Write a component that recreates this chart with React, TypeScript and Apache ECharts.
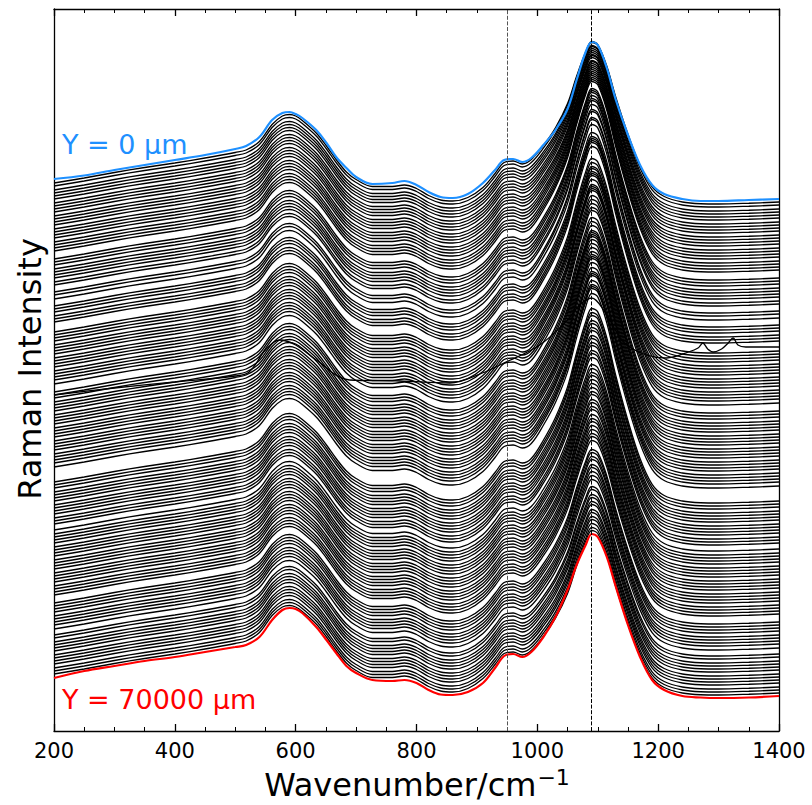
import React, { useEffect, useRef } from "react";
import * as echarts from "echarts";

const wavenumbers = [200, 250, 300, 350, 400, 450, 500, 518, 540, 561, 578, 590, 600, 611, 634, 651, 667, 684, 700, 727, 760, 780, 800, 820, 840, 860, 885, 910, 930, 945, 960, 975, 990, 1010, 1030, 1050, 1065, 1080, 1090, 1100, 1115, 1130, 1150, 1170, 1190, 1210, 1240, 1270, 1300, 1350, 1400];

// Y = 0 µm spectrum (offset intensity, a.u.)
const topSpectrum = [552, 555.5, 561, 566, 571, 576, 582, 585, 594, 611, 618, 619, 617, 613, 601, 588, 574, 563, 554, 547, 548, 550, 546, 539, 534, 533, 537, 548, 561, 571, 572, 569, 573, 586, 601, 622, 651, 679, 689, 686, 663, 631, 596, 566, 546, 537, 532, 530, 530, 531, 532];

// Y = 70000 µm spectrum (offset intensity, a.u.)
const bottomSpectrum = [53, 60, 65, 70, 74, 79, 84, 86, 94, 111, 121, 123, 122, 118, 104, 91, 78, 65, 58, 51, 50, 51, 48, 41, 36.5, 36, 39, 48, 63, 75, 77, 74, 79, 94, 114, 141, 166, 186, 197, 194, 174, 144, 106, 74, 51, 41, 35, 33.5, 33, 33.5, 35];

// typical spectrum shape relative to its 1400 cm^-1 level
const meanProfile = [19, 24, 29.5, 34.5, 39, 44, 49.5, 52, 60.5, 77.5, 86, 87.5, 86, 81.5, 69, 56, 42.5, 30, 22.5, 15.5, 15.5, 17, 13.5, 6.5, 2, 1, 4.5, 14.5, 28.5, 39.5, 41, 38, 42.5, 56.5, 74, 98, 125, 149, 159.5, 156.5, 135, 104, 67.5, 36.5, 15, 5.5, 0, -1.75, -2, -1.25, 0];

// shape of the ~1090 cm^-1 band (peak = 1)
const bandShape = [0, 0, 0, 0, 0, 0, 0, 0, 0, 0, 0, 0, 0, 0, 0, 0, 0, 0, 0, 0, 0, 0, 0, 0, 0, 0, 0, 0, 0, 0, 0, 0, 0, 0.13, 0.29, 0.49, 0.71, 0.91, 1, 0.99, 0.85, 0.64, 0.39, 0.18, 0.05, 0, 0, 0, 0, 0, 0];

// downward shift of each spectrum (Y = 0 ... 70000 µm, step 500 µm)
const baselineShift = [0, 3, 6, 10, 13, 16, 19, 23, 26, 29, 32, 36, 39, 42, 45, 49, 52, 55, 58, 62, 65, 68, 71, 79, 82, 85, 89, 92, 95, 98, 102, 105, 112, 115, 119, 126, 129, 132, 136, 139, 142, 148, 152, 155, 158, 161, 165, 168, 171, 174, 178, 181, 184, 187, 191, 194, 197, 200, 204, 212, 215, 218, 222, 225, 228, 231, 235, 238, 241, 244, 248, 251, 254, 257, 261, 264, 267, 270, 274, 277, 280, 283, 287, 302, 305, 308, 312, 315, 318, 321, 325, 328, 331, 334, 338, 341, 344, 350, 354, 357, 360, 363, 367, 370, 373, 376, 380, 383, 386, 389, 393, 396, 399, 402, 406, 409, 412, 415, 423, 426, 429, 432, 436, 439, 442, 445, 449, 455, 458, 462, 465, 468, 471, 475, 478, 481, 484, 488, 491, 494, 497];

// extra height of the 1090 cm^-1 band for each spectrum
const peakExtra = [0, 1, 3, 4, 6, 7, 8, 10, 11, 13, 14, 15, 17, 18, 19, 21, 22, 23, 24, 26, 27, 28, 29, 30, 31, 32,
  33, 33, 34, 33, 32, 33, 34, 35, 34, 33, 32, 33, 35, 36, 35, 34, 33, 32, 31, 32, 33, 34, 35, 34, 33, 34, 35, 36, 35, 34, 33, 32, 33, 34, 33, 32, 31, 32, 33, 34, 35, 34, 33, 32, 33, 34, 35, 34, 33, 32, 33, 34, 33, 32, 33, 34, 33, 33,
  32, 32, 31, 31, 30, 30, 29, 29, 28, 28, 27, 27, 26, 25, 25, 24, 24, 23, 23, 22, 21, 21, 20, 20, 19, 19, 18, 17, 17, 16, 16, 15, 15, 14, 13, 13, 12, 12, 11, 11, 10, 9, 9, 8, 8, 7, 7, 6, 6, 5, 5, 4, 4, 4, 3, 3, 3];

// one deviating spectrum (with two sharp lines near 1274 / 1324 cm^-1)
const OUTLIER_INDEX = 41;
const outlierWn = [200, 300, 400, 500, 523, 550, 573, 600, 634, 689, 772, 855, 909, 938, 1004, 1050, 1070, 1090, 1112, 1148, 1214, 1250, 1266, 1274, 1282, 1291, 1305, 1316, 1324, 1332, 1345, 1370, 1400];
const outlierIntensity = [336, 343, 349, 355, 359, 381, 391, 386, 371, 351, 350, 348, 358, 366, 386, 411, 426, 433, 419, 386, 373, 379, 383, 388, 382, 379, 382, 388, 393, 386, 384, 384, 384];

const TOP_BASELINE = 532;
const markerLines = [950, 1090];
const topLabel = "Y = 0 µm";
const bottomLabel = "Y = 70000 µm";

export default function App() {
  const ref = useRef<HTMLDivElement>(null);

  useEffect(() => {
    if (!ref.current) return;
    const chart = echarts.init(ref.current, undefined, { renderer: "svg" });

    const ctx = document.createElement("canvas").getContext("2d");
    let mainW = 274;
    let supW = 31;
    if (ctx) {
      ctx.font = '32px "DejaVu Sans"';
      mainW = ctx.measureText("Wavenumber/cm").width;
      ctx.font = '22px "DejaVu Sans"';
      supW = ctx.measureText("−1").width;
    }
    const cx = 416.5;
    const startX = cx - (mainW + supW) / 2;

    const lineBase = {
      type: "line",
      smooth: 0.35,
      symbol: "none",
      silent: true,
    };

    const series: any[] = [];
    for (let k = 1; k < baselineShift.length - 1; k++) {
      let data: number[][];
      if (k === OUTLIER_INDEX) {
        data = outlierWn.map((w, i) => [w, outlierIntensity[i]]);
      } else {
        data = wavenumbers.map((w, i) => [
          w,
          TOP_BASELINE - baselineShift[k] + meanProfile[i] + peakExtra[k] * bandShape[i],
        ]);
      }
      series.push({ ...lineBase, data, lineStyle: { color: "#000", width: 1.3 }, z: 2 });
    }
    series.push({
      ...lineBase,
      data: wavenumbers.map((w, i) => [w, topSpectrum[i]]),
      lineStyle: { color: "#1E90FF", width: 2.2 },
      z: 3,
    });
    series.push({
      ...lineBase,
      data: wavenumbers.map((w, i) => [w, bottomSpectrum[i]]),
      lineStyle: { color: "#FF0000", width: 2.2 },
      z: 3,
      markLine: {
        silent: true,
        symbol: ["none", "none"],
        label: { show: false },
        lineStyle: { type: [4, 1.6], color: "#000", width: 1 },
        data: markerLines.map((v, i) => ({
          xAxis: v,
          lineStyle: { color: i === 0 ? "#555" : "#000", type: [4, 1.6], width: 1 },
        })),
        z: 5,
      },
    });

    const xCommon = {
      type: "value",
      min: 200,
      max: 1400,
      interval: 200,
      axisLine: { show: true, onZero: false, lineStyle: { color: "#000", width: 1.3 } },
      axisTick: { show: true, inside: true, length: 7, lineStyle: { color: "#000", width: 1.3 } },
      minorTick: { show: true, splitNumber: 4, length: 4, lineStyle: { color: "#000", width: 1 } },
      splitLine: { show: false },
      minorSplitLine: { show: false },
    };
    const yCommon = {
      type: "value",
      min: 0,
      max: 722,
      axisLine: { show: true, onZero: false, lineStyle: { color: "#000", width: 1.3 } },
      axisTick: { show: false },
      axisLabel: { show: false },
      splitLine: { show: false },
    };

    chart.setOption({
      animation: false,
      grid: { left: 54, top: 9, width: 725, height: 722, containLabel: false },
      xAxis: [
        {
          ...xCommon,
          position: "bottom",
          axisLabel: {
            color: "#000",
            fontSize: 21,
            fontFamily: "DejaVu Sans",
            margin: 9,
            formatter: (v: number) => String(v),
          },
        },
        { ...xCommon, position: "top", axisLabel: { show: false } },
      ],
      yAxis: [
        { ...yCommon, position: "left" },
        { ...yCommon, position: "right" },
      ],
      series,
      graphic: [
        {
          type: "text",
          x: 30,
          y: 369,
          rotation: Math.PI / 2,
          style: {
            text: "Raman Intensity",
            fontSize: 32,
            fontFamily: "DejaVu Sans",
            fill: "#000",
            align: "center",
            verticalAlign: "middle",
          },
        },
        {
          type: "text",
          x: startX,
          y: 785,
          style: {
            text: "Wavenumber/cm",
            fontSize: 32,
            fontFamily: "DejaVu Sans",
            fill: "#000",
            align: "left",
            verticalAlign: "middle",
          },
        },
        {
          type: "text",
          x: startX + mainW + 1,
          y: 777,
          style: {
            text: "−1",
            fontSize: 22,
            fontFamily: "DejaVu Sans",
            fill: "#000",
            align: "left",
            verticalAlign: "middle",
          },
        },
        {
          type: "text",
          x: 62,
          y: 144,
          style: {
            text: topLabel,
            fontSize: 27,
            fontFamily: "DejaVu Sans",
            fill: "#1E90FF",
            align: "left",
            verticalAlign: "middle",
          },
        },
        {
          type: "text",
          x: 62,
          y: 699,
          style: {
            text: bottomLabel,
            fontSize: 27,
            fontFamily: "DejaVu Sans",
            fill: "#FF0000",
            align: "left",
            verticalAlign: "middle",
          },
        },
      ],
    });

    return () => chart.dispose();
  }, []);

  return (
    <div
      ref={ref}
      style={{ position: "fixed", left: 0, top: 0, width: 812, height: 805, background: "#fff" }}
    />
  );
}
